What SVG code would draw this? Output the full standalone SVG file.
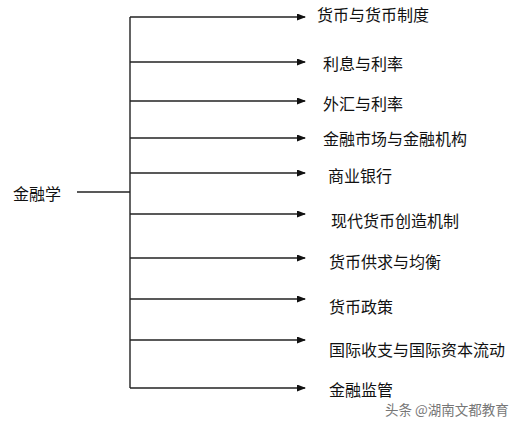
<svg xmlns="http://www.w3.org/2000/svg" width="517" height="429" viewBox="0 0 517 429">
<style>
.t{font-family:"Noto Sans CJK SC","Noto Sans CJK JP",sans-serif;font-size:16px;fill:#111}
.l{stroke:#222;stroke-width:1.4;fill:none}
.w{font-family:"Noto Sans CJK SC",sans-serif;font-size:13.5px;fill:#777}
</style>
<defs>
<marker id="ah" markerWidth="9" markerHeight="7" refX="8" refY="3.5" orient="auto" markerUnits="userSpaceOnUse">
<path d="M0,0 L9,3.5 L0,7 Z" fill="#111"/>
</marker>
</defs>
<rect width="517" height="429" fill="#fff"/>
<g id="connectors">
<line class="l" x1="77" y1="192" x2="130" y2="192"/>
<line class="l" x1="130" y1="17" x2="130" y2="388"/>
<line class="l" x1="130" y1="17" x2="305" y2="17" marker-end="url(#ah)"/>
<line class="l" x1="130" y1="62" x2="305" y2="62" marker-end="url(#ah)"/>
<line class="l" x1="130" y1="101" x2="305" y2="101" marker-end="url(#ah)"/>
<line class="l" x1="130" y1="138" x2="305" y2="138" marker-end="url(#ah)"/>
<line class="l" x1="130" y1="173" x2="305" y2="173" marker-end="url(#ah)"/>
<line class="l" x1="130" y1="214" x2="305" y2="214" marker-end="url(#ah)"/>
<line class="l" x1="130" y1="258" x2="305" y2="258" marker-end="url(#ah)"/>
<line class="l" x1="130" y1="299" x2="305" y2="299" marker-end="url(#ah)"/>
<line class="l" x1="130" y1="340" x2="305" y2="340" marker-end="url(#ah)"/>
<line class="l" x1="130" y1="388" x2="305" y2="388" marker-end="url(#ah)"/>
</g>
<g id="root"><text class="t" x="13" y="200">金融学</text></g>
<g id="n1"><text class="t" x="317" y="21">货币与货币制度</text></g>
<g id="n2"><text class="t" x="323" y="70">利息与利率</text></g>
<g id="n3"><text class="t" x="323" y="110">外汇与利率</text></g>
<g id="n4"><text class="t" x="323" y="145">金融市场与金融机构</text></g>
<g id="n5"><text class="t" x="328" y="182">商业银行</text></g>
<g id="n6"><text class="t" x="331" y="227">现代货币创造机制</text></g>
<g id="n7"><text class="t" x="329" y="268">货币供求与均衡</text></g>
<g id="n8"><text class="t" x="329" y="313">货币政策</text></g>
<g id="n9"><text class="t" x="329" y="356">国际收支与国际资本流动</text></g>
<g id="n10"><text class="t" x="329" y="396">金融监管</text></g>
<text class="w" x="385" y="415">头条 @湖南文都教育</text>
</svg>
